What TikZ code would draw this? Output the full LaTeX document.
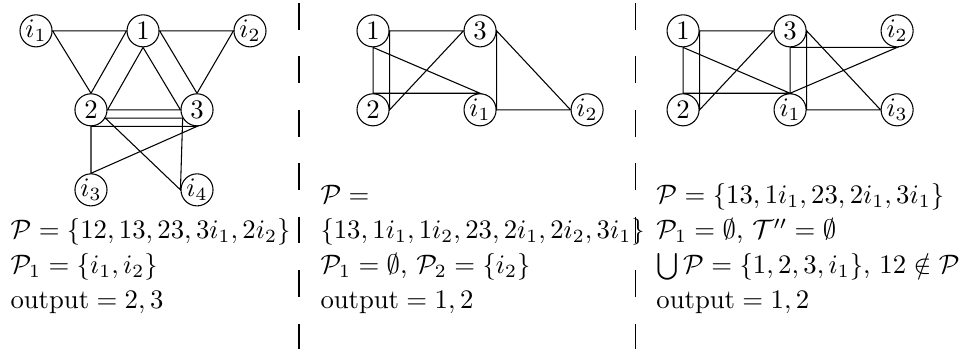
\documentclass[tikz,border=0pt]{standalone}
\usepackage{amsmath}
\usepackage{amssymb}
\usetikzlibrary{positioning}

\begin{document}
\begin{tikzpicture}[
    vtx/.style={draw, circle, inner sep=0pt, minimum size=12pt},
    hedge/.style={thin},
    sep/.style={thin, dash pattern=on 10pt off 10pt},
    txt/.style={inner sep=0pt, align=left, anchor=base west}
  ]
    \useasboundingbox (0,0) rectangle (12.67,4.59);

    \node[vtx] (ai1) at (0.474,4.184) {$i_1$};
    \node[vtx] (a1)  at (1.882,4.184) {$1$};
    \node[vtx] (ai2) at (3.289,4.184) {$i_2$};
    \node[vtx] (a2)  at (1.197,3.145) {$2$};
    \node[vtx] (a3)  at (2.592,3.145) {$3$};
    \node[vtx] (ai3) at (1.197,2.092) {$i_3$};
    \node[vtx] (ai4) at (2.592,2.092) {$i_4$};

    \draw[hedge] (ai1.east) -- (a1.west) -- (a2.north) -- cycle;
    \draw[hedge] (a1.south) -- (a2.east) -- (a3.west) -- cycle;
    \draw[hedge] (a1.east) -- (ai2.west) -- (a3.north) -- cycle;
    \draw[hedge] (a2.-30) -- (a3.210) -- (ai4.west) -- cycle;
    \draw[hedge] (a2.south) -- (a3.south) -- (ai3.north) -- cycle;

    \node[txt] (ta) at (0.132,0.526) {$\mathcal{P}=\{12,13,23,3i_1,2i_2\}$\\[1.1pt]
      $\mathcal{P}_1=\{i_1,i_2\}$\\[1.1pt]
      $\mathrm{output}=2,3$};

    \draw[sep] (3.934,4.55) -- (3.934,0);

    \node[vtx] (b1)  at (4.908,4.184) {$1$};
    \node[vtx] (b3)  at (6.316,4.184) {$3$};
    \node[vtx] (b2)  at (4.908,3.145) {$2$};
    \node[vtx] (bi1) at (6.316,3.145) {$i_1$};
    \node[vtx] (bi2) at (7.724,3.145) {$i_2$};

    \draw[hedge] (b1.south) -- (b2.north) -- (bi1.north) -- cycle;
    \draw[hedge] (b1.east) -- (b2.east) -- (b3.west) -- cycle;
    \draw[hedge] (b3.east) -- (bi1.east) -- (bi2.west) -- cycle;

    \node[txt] (tb) at (4.21,0.526) {$\mathcal{P}=$\\[1.1pt]
      $\{13,1i_1,1i_2,23,2i_1,2i_2,3i_1\}$\\[1.1pt]
      $\mathcal{P}_1=\emptyset$, $\mathcal{P}_2=\{i_2\}$\\[1.1pt]
      $\mathrm{output}=1,2$};

    \draw[sep] (8.355,4.55) -- (8.355,0);

    \node[vtx] (c1)  at (8.987,4.184) {$1$};
    \node[vtx] (c3)  at (10.395,4.184) {$3$};
    \node[vtx] (ci2) at (11.803,4.184) {$i_2$};
    \node[vtx] (c2)  at (8.987,3.145) {$2$};
    \node[vtx] (ci1) at (10.395,3.145) {$i_1$};
    \node[vtx] (ci3) at (11.803,3.145) {$i_3$};

    \draw[hedge] (c1.south) -- (c2.north) -- (ci1.north) -- cycle;
    \draw[hedge] (c1.east) -- (c2.east) -- (c3.west) -- cycle;
    \draw[hedge] (c3.south) -- (ci1.north) -- (ci2.south) -- cycle;
    \draw[hedge] (c3.east) -- (ci1.east) -- (ci3.west) -- cycle;

    \node[txt] (tc) at (8.63,0.526) {$\mathcal{P}=\{13,1i_1,23,2i_1,3i_1\}$\\[1.1pt]
      $\mathcal{P}_1=\emptyset$, $\mathcal{T}''=\emptyset$\\[1.1pt]
      $\bigcup\mathcal{P}=\{1,2,3,i_1\}$, $12\notin\mathcal{P}$\\[1.1pt]
      $\mathrm{output}=1,2$};
  \end{tikzpicture}
\end{document}
